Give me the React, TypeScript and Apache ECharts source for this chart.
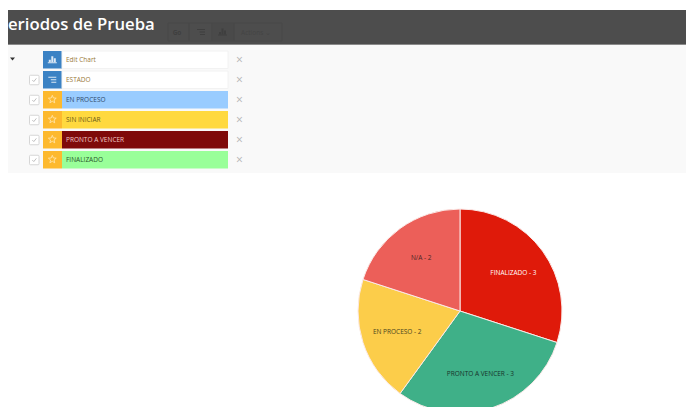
import React, { useEffect, useRef } from "react";
import * as echarts from "echarts";

// Pie slices, clockwise from twelve o'clock
const sliceNames = ["FINALIZADO", "PRONTO A VENCER", "EN PROCESO", "N/A"];
const sliceValues = [3, 3, 2, 2];
const sliceColors = ["#DF1A0A", "#3FB088", "#FCCD4A", "#EC5F59"];
const sliceLabelColors = ["#ffffff", "#17332a", "#4a4520", "#4a2626"];

// Rows of the series list above the chart
const rowLabels = ["Edit Chart", "ESTADO", "EN PROCESO", "SIN INICIAR", "PRONTO A VENCER", "FINALIZADO"];
const rowFills = ["#ffffff", "#ffffff", "#99CCFF", "#FFD93F", "#7F0A0A", "#99FF99"];
const rowTextColors = ["#9a7a3a", "#9a7a3a", "#2f4a6a", "#6a5a1a", "#f0c8c8", "#2a552a"];
const rowIcons = ["chart", "list", "star", "star", "star", "star"];
const rowTops = [51, 71, 91, 111, 131, 151];

const FONT = "'Open Sans', sans-serif";

function starPoints(cx: number, cy: number, r: number) {
  const pts: number[][] = [];
  for (let i = 0; i < 10; i++) {
    const rad = i % 2 === 0 ? r : r * 0.45;
    const a = -Math.PI / 2 + (i * Math.PI) / 5;
    pts.push([cx + rad * Math.cos(a), cy + rad * Math.sin(a)]);
  }
  return pts;
}

function barIcon(x: number, y: number, color: string) {
  return [
    { type: "rect", shape: { x: x - 3.5, y: y + 0.5, width: 2, height: 2.5 }, style: { fill: color } },
    { type: "rect", shape: { x: x - 1, y: y - 3, width: 2, height: 6 }, style: { fill: color } },
    { type: "rect", shape: { x: x + 1.5, y: y - 1, width: 2, height: 4 }, style: { fill: color } },
    { type: "rect", shape: { x: x - 4.5, y: y + 3, width: 9, height: 1 }, style: { fill: color } },
  ];
}

function listIcon(x: number, y: number, color: string) {
  return [
    { type: "rect", shape: { x: x - 4, y: y - 3, width: 8, height: 1 }, style: { fill: color } },
    { type: "rect", shape: { x: x - 1.5, y: y - 0.5, width: 5.5, height: 1 }, style: { fill: color } },
    { type: "rect", shape: { x: x - 1, y: y + 2, width: 5, height: 1 }, style: { fill: color } },
  ];
}

function buildRow(i: number): any[] {
  const top = rowTops[i];
  const h = 17.5;
  const mid = top + h / 2;
  const kind = rowIcons[i];
  const els: any[] = [];
  if (i > 0) {
    els.push({
      type: "rect",
      shape: { x: 29.5, y: mid - 4.5, width: 9.5, height: 9.5, r: 1 },
      style: { fill: "#ffffff", stroke: "#d6d6d6", lineWidth: 1 },
    });
    els.push({
      type: "polyline",
      shape: { points: [[32.3, mid + 0.3], [33.8, mid + 1.8], [36.4, mid - 1.4]] },
      style: { stroke: "#b0b0b0", lineWidth: 0.8, fill: "none" },
    });
  }
  els.push({
    type: "rect",
    shape: { x: 43, y: top, width: 19, height: h },
    style: { fill: kind === "star" ? "#FDB92E" : "#3B82C4" },
  });
  els.push({
    type: "rect",
    shape: { x: 62, y: top, width: 166, height: h },
    style: { fill: rowFills[i], stroke: i < 2 ? "#f2f2f2" : undefined, lineWidth: 1 },
  });
  if (kind === "star") {
    els.push({
      type: "polygon",
      shape: { points: starPoints(52.3, mid - 0.3, 4.1) },
      style: { fill: "none", stroke: "#ffe9b8", lineWidth: 0.8 },
    });
  } else if (kind === "chart") {
    els.push(...barIcon(52.3, mid - 0.5, "#dce9f5"));
  } else {
    els.push(...listIcon(52.3, mid, "#dce9f5"));
  }
  els.push({
    type: "text",
    x: 66,
    y: mid,
    style: {
      text: rowLabels[i],
      fill: rowTextColors[i],
      font: `6.5px ${FONT}`,
      verticalAlign: "middle",
    },
  });
  els.push({
    type: "text",
    x: 239.5,
    y: mid - 0.5,
    style: {
      text: "×",
      fill: "#b4b4b4",
      font: `12px ${FONT}`,
      align: "center",
      verticalAlign: "middle",
    },
  });
  return els;
}

function buildToolbar(): any[] {
  const dark = "#3f3f3f";
  const outline = "#484848";
  return [
    { type: "rect", shape: { x: 8, y: 10, width: 678, height: 34 }, style: { fill: "#4D4D4D" } },
    { type: "rect", shape: { x: 8, y: 44, width: 678, height: 1 }, style: { fill: "#8a8a8a" } },
    { type: "rect", shape: { x: 8, y: 45, width: 678, height: 128 }, style: { fill: "#F9F9F9" } },
    { type: "rect", shape: { x: 168, y: 23, width: 21, height: 18 }, style: { fill: "none", stroke: outline } },
    { type: "rect", shape: { x: 189, y: 23, width: 23, height: 18 }, style: { fill: "none", stroke: outline } },
    { type: "rect", shape: { x: 212, y: 23, width: 22, height: 18 }, style: { fill: "#4a4a4a", stroke: outline } },
    { type: "rect", shape: { x: 234, y: 23, width: 48, height: 18 }, style: { fill: "none", stroke: outline } },
    {
      type: "text",
      x: 177,
      y: 32.5,
      style: { text: "Go", fill: dark, font: `bold 6.5px ${FONT}`, align: "center", verticalAlign: "middle" },
    },
    ...listIcon(201, 32, dark),
    ...barIcon(222.5, 31.5, dark),
    {
      type: "text",
      x: 256,
      y: 32.5,
      style: { text: "Actions ⌄", fill: "#444444", font: `6.5px ${FONT}`, align: "center", verticalAlign: "middle" },
    },
    {
      type: "text",
      x: 8,
      y: 23,
      style: { text: "eriodos de Prueba", fill: "#ffffff", font: `600 16.7px ${FONT}`, verticalAlign: "middle" },
    },
    { type: "polygon", shape: { points: [[10, 57.5], [15, 57.5], [12.5, 60.5]] }, style: { fill: "#333333" } },
  ];
}

export default function App() {
  const ref = useRef<HTMLDivElement>(null);

  useEffect(() => {
    const chart = echarts.init(ref.current!, null, { renderer: "svg" });
    const slices = sliceNames.map((name, i) => ({ name, value: sliceValues[i] }));
    const common = {
      type: "pie" as const,
      center: [460, 311],
      startAngle: 90,
      clockwise: true,
      silent: true,
      animation: false,
    };
    chart.setOption({
      animation: false,
      backgroundColor: "#ffffff",
      graphic: {
        elements: [...buildToolbar(), ...rowLabels.flatMap((_, i) => buildRow(i))],
      },
      series: [
        {
          ...common,
          radius: [0, 102],
          label: { show: false },
          labelLine: { show: false },
          data: slices.map((s, i) => ({
            ...s,
            itemStyle: { color: sliceColors[i], borderColor: "#fbe9e7", borderWidth: 1 },
          })),
        },
        {
          // Transparent ring whose mid-radius places the slice captions
          ...common,
          radius: [24, 102],
          labelLine: { show: false },
          label: {
            show: true,
            position: "inside",
            rotate: 0,
            fontFamily: FONT,
            fontSize: 6.5,
            formatter: (p: any) => `${p.name} - ${p.value}`,
          },
          data: slices.map((s, i) => ({
            ...s,
            itemStyle: { color: "rgba(0,0,0,0)" },
            label: { color: sliceLabelColors[i] },
          })),
        },
      ],
    });
    return () => chart.dispose();
  }, []);

  return (
    <div
      ref={ref}
      style={{ position: "absolute", left: 0, top: 0, width: 686, height: 407, overflow: "hidden" }}
    />
  );
}
